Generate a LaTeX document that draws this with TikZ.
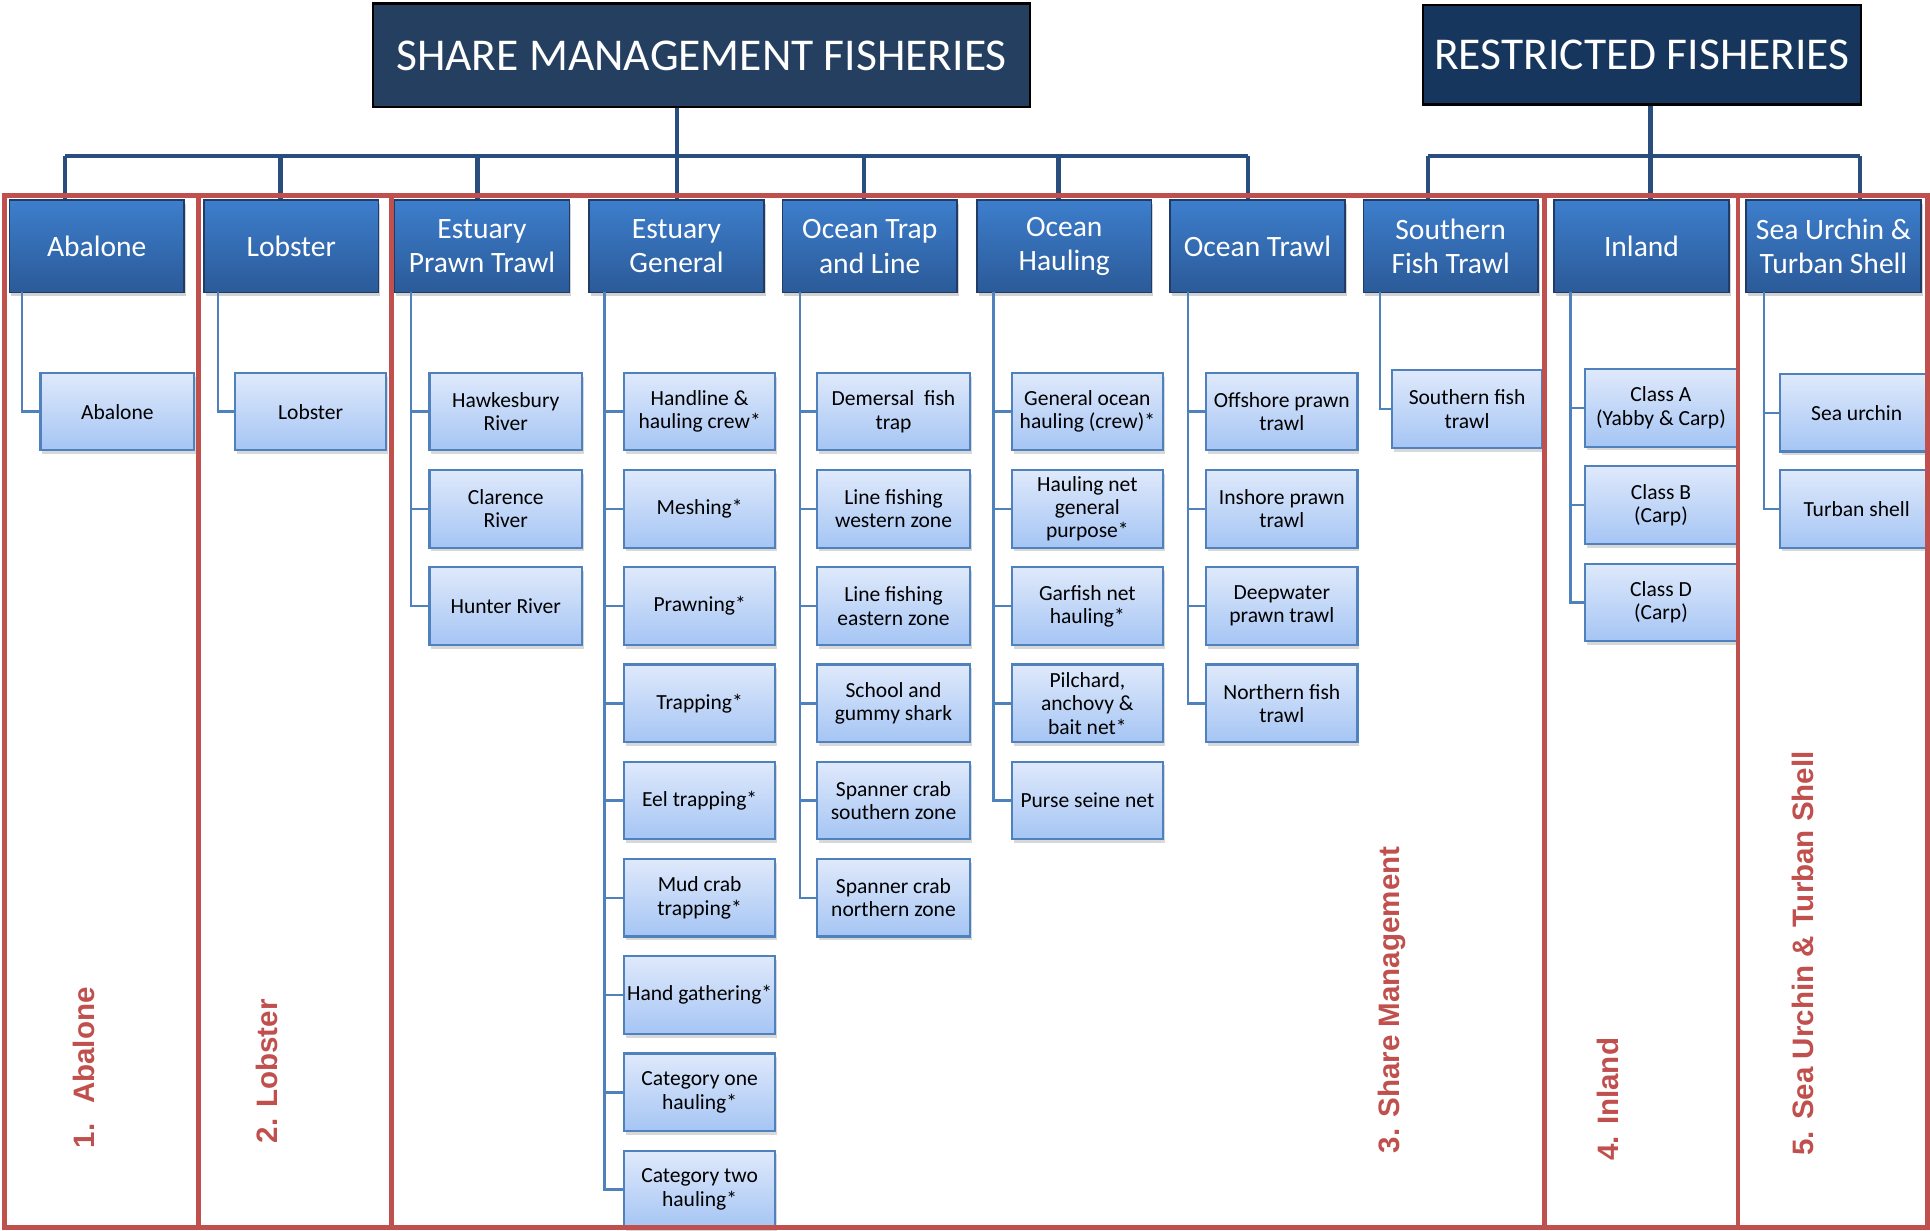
\documentclass[tikz,border=0pt]{standalone}
\usepackage{fontspec}
\setmainfont{Carlito}
\newfontfamily\labfont{Liberation Sans}
\usetikzlibrary{shadows}
\definecolor{navyA}{HTML}{243F60}
\definecolor{navyB}{HTML}{17365D}
\definecolor{hdrTop}{HTML}{3D7ECC}
\definecolor{hdrBot}{HTML}{2B5A98}
\definecolor{hdrLine}{HTML}{1F3B66}
\definecolor{leafTop}{HTML}{DFE9FB}
\definecolor{leafBot}{HTML}{A5C5F4}
\definecolor{leafLine}{HTML}{4F81BD}
\definecolor{busC}{HTML}{2A4D7F}
\definecolor{secRed}{HTML}{C0504D}
\begin{document}
\begin{tikzpicture}[x=1pt,y=1pt,
  titlebox/.style={draw=black, line width=2pt, text=white, inner sep=0pt, anchor=north west, font=\fontsize{37}{42}\selectfont},
  hdr/.style={draw=hdrLine, line width=1.2pt, top color=hdrTop, bottom color=hdrBot, text=white, align=center, inner sep=0pt, anchor=north west, minimum width=142pt, minimum height=75pt, font=\fontsize{24}{28}\selectfont, drop shadow={shadow xshift=1.5pt, shadow yshift=-3pt, opacity=0.35}},
  leaf/.style={draw=leafLine, line width=1.8pt, top color=leafTop, bottom color=leafBot, text=black, align=center, inner sep=0pt, anchor=north west, minimum width=124pt, minimum height=63pt, font=\fontsize{17.5}{19}\selectfont, drop shadow={shadow xshift=1.5pt, shadow yshift=-3pt, opacity=0.3}},
  bus/.style={draw=busC, line width=3.5pt},
  conn/.style={draw=leafLine, line width=2pt},
  sect/.style={draw=secRed, line width=4pt},
  seclab/.style={text=secRed, font=\labfont\bfseries\fontsize{24}{28}\selectfont, rotate=90, anchor=west, inner sep=0pt}
]
\fill[white] (0,0) rectangle (1568,-1000);
\useasboundingbox (0,0) rectangle (1568,-1000);

% title boxes
\node[titlebox, fill=navyA, minimum width=534pt, minimum height=84pt] (smf) at (302,-2) {SHARE MANAGEMENT FISHERIES};
\node[titlebox, fill=navyB, minimum width=356pt, minimum height=81pt] (rf) at (1155,-3) {RESTRICTED FISHERIES};

% headers
\node[hdr] (h1) at (7,-162) {Abalone};
\node[hdr] (h2) at (165,-162) {Lobster};
\node[hdr] (h3) at (320,-162) {Estuary\\Prawn Trawl};
\node[hdr] (h4) at (478,-162) {Estuary\\General};
\node[hdr] (h5) at (635,-162) {Ocean Trap\\and Line};
\node[hdr] (h6) at (793,-162) {Ocean\\Hauling};
\node[hdr] (h7) at (950,-162) {Ocean Trawl};
\node[hdr] (h8) at (1107,-162) {Southern\\Fish Trawl};
\node[hdr] (h9) at (1262,-162) {Inland};
\node[hdr] (h10) at (1418,-162) {Sea Urchin \&\\Turban Shell};

% bus
\coordinate (sj) at (550,-127);
\coordinate (rj) at (1341,-127);
\coordinate (d1) at (53,-127);
\coordinate (d2) at (228,-127);
\coordinate (d3) at (388,-127);
\coordinate (d4) at (550,-127);
\coordinate (d5) at (702,-127);
\coordinate (d6) at (860,-127);
\coordinate (d7) at (1014,-127);
\coordinate (d8) at (1160,-127);
\coordinate (d9) at (1341,-127);
\coordinate (d10) at (1511,-127);
\draw[bus] (smf.south -| sj) -- (sj);
\draw[bus] (rf.south -| rj) -- (rj);
\draw[bus] (d1) -- (d7);
\draw[bus] (d8) -- (d10);
\foreach \i in {1,...,10} { \draw[bus] (d\i) -- (d\i |- h\i.north); }

% leaves
\node[leaf, minimum width=125pt] (c1a) at (32,-302) {Abalone};
\node[leaf, minimum width=123pt] (c2a) at (190,-302) {Lobster};

\node[leaf] (c3a) at (348,-302) {Hawkesbury\\River};
\node[leaf] (c3b) at (348,-381) {Clarence\\River};
\node[leaf] (c3c) at (348,-460) {Hunter River};

\node[leaf, minimum width=123pt] (c4a) at (506,-302) {Handline \&\\hauling crew*};
\node[leaf, minimum width=123pt] (c4b) at (506,-381) {Meshing*};
\node[leaf, minimum width=123pt] (c4c) at (506,-460) {Prawning*};
\node[leaf, minimum width=123pt] (c4d) at (506,-539) {Trapping*};
\node[leaf, minimum width=123pt] (c4e) at (506,-618) {Eel trapping*};
\node[leaf, minimum width=123pt] (c4f) at (506,-697) {Mud crab\\trapping*};
\node[leaf, minimum width=123pt] (c4g) at (506,-776) {Hand gathering*};
\node[leaf, minimum width=123pt] (c4h) at (506,-855) {Category one\\hauling*};
\node[leaf, minimum width=123pt] (c4i) at (506,-934) {Category two\\hauling*};

\node[leaf] (c5a) at (663,-302) {Demersal\ \ fish\\trap};
\node[leaf] (c5b) at (663,-381) {Line fishing\\western zone};
\node[leaf] (c5c) at (663,-460) {Line fishing\\eastern zone};
\node[leaf] (c5d) at (663,-539) {School and\\gummy shark};
\node[leaf] (c5e) at (663,-618) {Spanner crab\\southern zone};
\node[leaf] (c5f) at (663,-697) {Spanner crab\\northern zone};

\node[leaf, minimum width=123pt] (c6a) at (821,-302) {General ocean\\hauling (crew)*};
\node[leaf, minimum width=123pt] (c6b) at (821,-381) {Hauling net\\general\\purpose*};
\node[leaf, minimum width=123pt] (c6c) at (821,-460) {Garfish net\\hauling*};
\node[leaf, minimum width=123pt] (c6d) at (821,-539) {Pilchard,\\anchovy \&\\bait net*};
\node[leaf, minimum width=123pt] (c6e) at (821,-618) {Purse seine net};

\node[leaf, minimum width=123pt] (c7a) at (979,-302) {Offshore prawn\\trawl};
\node[leaf, minimum width=123pt] (c7b) at (979,-381) {Inshore prawn\\trawl};
\node[leaf, minimum width=123pt] (c7c) at (979,-460) {Deepwater\\prawn trawl};
\node[leaf, minimum width=123pt] (c7d) at (979,-539) {Northern fish\\trawl};

\node[leaf, minimum width=122pt] (c8a) at (1130,-300) {Southern fish\\trawl};

\node[leaf, minimum width=123pt] (c9a) at (1287,-299) {Class A\\(Yabby \& Carp)};
\node[leaf, minimum width=123pt] (c9b) at (1287,-378) {Class B\\(Carp)};
\node[leaf, minimum width=123pt] (c9c) at (1287,-457) {Class D\\(Carp)};

\node[leaf, minimum width=125pt] (c10a) at (1445,-303) {Sea urchin};
\node[leaf, minimum width=125pt] (c10b) at (1445,-381) {Turban shell};

% column connectors
\coordinate (v1) at (18,-237);
\coordinate (v2) at (177,-237);
\coordinate (v3) at (334,-237);
\coordinate (v4) at (491,-237);
\coordinate (v5) at (650,-237);
\coordinate (v6) at (807,-237);
\coordinate (v7) at (965,-237);
\coordinate (v8) at (1121,-237);
\coordinate (v9) at (1276,-237);
\coordinate (v10) at (1433,-237);
\draw[conn] (v1) |- (c1a.west);
\draw[conn] (v2) |- (c2a.west);
\foreach \c in {a,b,c} { \draw[conn] (v3) |- (c3\c.west); }
\foreach \c in {a,b,c,d,e,f,g,h,i} { \draw[conn] (v4) |- (c4\c.west); }
\foreach \c in {a,b,c,d,e,f} { \draw[conn] (v5) |- (c5\c.west); }
\foreach \c in {a,b,c,d,e} { \draw[conn] (v6) |- (c6\c.west); }
\foreach \c in {a,b,c,d} { \draw[conn] (v7) |- (c7\c.west); }
\draw[conn] (v8) |- (c8a.west);
\foreach \c in {a,b,c} { \draw[conn] (v9) |- (c9\c.west); }
\foreach \c in {a,b} { \draw[conn] (v10) |- (c10\c.west); }

% sections
\draw[sect] (4,-159) rectangle (161,-997);
\draw[sect] (161,-159) rectangle (318,-997);
\draw[sect] (318,-159) rectangle (1255,-997);
\draw[sect] (1255,-159) rectangle (1412,-997);
\draw[sect] (1412,-159) rectangle (1566,-997);

\node[seclab] (l1) at (68,-933) {1.\hspace{16pt}Abalone};
\node[seclab] (l2) at (217,-929) {2. Lobster};
\node[seclab] (l3) at (1131,-937) {3. Share Management};
\node[seclab] (l4) at (1306,-943) {4. Inland};
\node[seclab] (l5) at (1465,-939) {5. Sea Urchin \& Turban Shell};
\end{tikzpicture}
\end{document}
